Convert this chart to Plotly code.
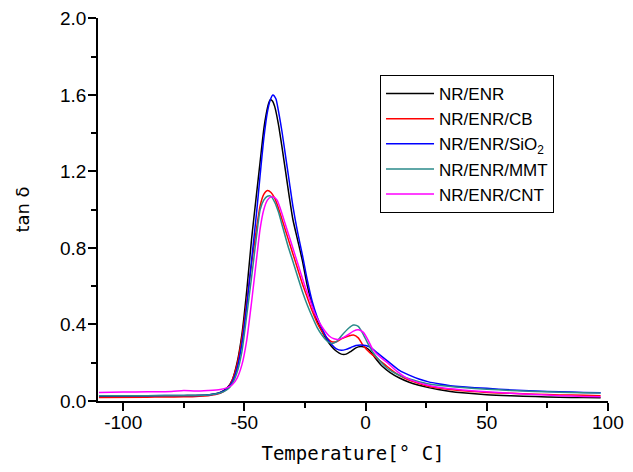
import plotly.graph_objects as go

# ---- data ----
t_enr = [-110, -90, -75, -65, -60, -57, -55, -53, -51, -49, -47, -45, -43.5, -42, -41, -40, -39.3, -38.5,
         -37.5, -36, -34.5, -33, -31.5, -30, -28, -26, -24, -22, -20, -18, -16, -14, -12, -10, -8, -6,
         -4, -2, 0, 2, 4, 7, 10, 14, 18, 22, 26, 30, 35, 40, 50, 60, 70, 80, 90, 97]
tan_enr = [0.025, 0.026, 0.028, 0.032, 0.045, 0.07, 0.11, 0.2, 0.35, 0.58, 0.85, 1.08, 1.25, 1.42, 1.50,
           1.555, 1.575, 1.57, 1.54, 1.45, 1.33, 1.20, 1.07, 0.95, 0.84, 0.73, 0.60, 0.50, 0.42, 0.365,
           0.32, 0.285, 0.26, 0.245, 0.245, 0.26, 0.278, 0.285, 0.28, 0.26, 0.225, 0.18, 0.15, 0.12,
           0.098, 0.082, 0.07, 0.06, 0.05, 0.043, 0.033, 0.027, 0.023, 0.02, 0.018, 0.017]

t_cb = [-110, -90, -75, -65, -60, -57, -55, -53, -51, -49, -47, -45, -43.5, -42, -40.5, -39, -37.5, -36,
        -34, -32, -30, -28, -26, -24, -22, -20, -18, -16, -14, -12, -10, -7, -5, -3, -1, 2, 5, 8, 12,
        16, 20, 25, 30, 40, 50, 60, 70, 80, 90, 97]
tan_cb = [0.018, 0.02, 0.022, 0.028, 0.04, 0.065, 0.11, 0.19, 0.33, 0.52, 0.72, 0.9, 1.02, 1.08, 1.1,
          1.09, 1.06, 1.01, 0.93, 0.85, 0.77, 0.69, 0.61, 0.54, 0.47, 0.41, 0.365, 0.33, 0.31, 0.31,
          0.325, 0.34, 0.345, 0.33, 0.29, 0.25, 0.22, 0.19, 0.15, 0.12, 0.1, 0.08, 0.068, 0.053, 0.045,
          0.04, 0.035, 0.032, 0.03, 0.028]

t_sio2 = [-110, -90, -75, -65, -60, -57, -55, -53, -51, -49, -47, -45, -43.5, -42, -40.5, -39.3, -38.2,
          -37, -36, -34.5, -33, -31.5, -30, -28, -26, -24, -22, -20, -18, -16, -14, -12, -10, -8, -6,
          -4, -2, 0, 2, 5, 9, 14, 18, 22, 26, 30, 35, 40, 50, 60, 70, 80, 90, 97]
tan_sio2 = [0.027, 0.028, 0.029, 0.032, 0.043, 0.065, 0.1, 0.17, 0.3, 0.5, 0.74, 0.98, 1.18, 1.37, 1.51,
            1.575, 1.6, 1.58, 1.52, 1.41, 1.28, 1.15, 1.02, 0.88, 0.76, 0.63, 0.52, 0.44, 0.38, 0.33,
            0.295, 0.272, 0.265, 0.27, 0.28, 0.29, 0.293, 0.29, 0.28, 0.25, 0.21, 0.16, 0.135, 0.115,
            0.1, 0.09, 0.08, 0.074, 0.066, 0.058, 0.052, 0.048, 0.045, 0.043]

t_mmt = [-110, -90, -75, -65, -60, -57, -55, -53, -51, -49, -47, -45, -43.5, -42, -40.5, -39, -37.5, -36,
         -34, -32, -30, -28, -26, -24, -22, -20, -18, -16, -14, -12, -10, -7, -5, -3, -1, 1, 3, 5.5, 9,
         13, 17, 21, 25, 30, 40, 50, 60, 70, 80, 90, 97]
tan_mmt = [0.027, 0.028, 0.029, 0.032, 0.042, 0.06, 0.09, 0.15, 0.26, 0.45, 0.65, 0.86, 1.0, 1.05, 1.07,
           1.07, 1.04, 0.99, 0.9, 0.81, 0.73, 0.65, 0.57, 0.5, 0.44, 0.385, 0.345, 0.315, 0.3, 0.31,
           0.34, 0.38, 0.397, 0.39, 0.35, 0.30, 0.255, 0.215, 0.17, 0.14, 0.12, 0.105, 0.092, 0.082,
           0.07, 0.062, 0.055, 0.05, 0.046, 0.043, 0.042]

t_cnt = [-110, -100, -90, -80, -75, -70, -65, -60, -57, -55, -53, -51, -49, -47, -45, -43.5, -42, -40.5,
         -39, -38, -36.5, -35, -33, -31, -29, -27, -25, -23, -21, -19, -17, -15, -13, -11, -8, -5, -3,
         -1, 1, 3, 6, 9, 13, 17, 21, 25, 30, 40, 50, 60, 70, 80, 90, 97]
tan_cnt = [0.045, 0.047, 0.048, 0.05, 0.055, 0.052, 0.055, 0.06, 0.07, 0.085, 0.12, 0.19, 0.32, 0.52,
           0.74, 0.9, 1.0, 1.05, 1.067, 1.067, 1.05, 1.0, 0.92, 0.84, 0.76, 0.68, 0.6, 0.53, 0.46, 0.41,
           0.37, 0.34, 0.325, 0.322, 0.34, 0.365, 0.372, 0.36, 0.32, 0.27, 0.23, 0.2, 0.155, 0.12, 0.1,
           0.085, 0.072, 0.058, 0.048, 0.04, 0.034, 0.028, 0.024, 0.022]

series_names = ["NR/ENR", "NR/ENR/CB", "NR/ENR/SiO<sub>2</sub>", "NR/ENR/MMT", "NR/ENR/CNT"]
series_x = [t_enr, t_cb, t_sio2, t_mmt, t_cnt]
series_y = [tan_enr, tan_cb, tan_sio2, tan_mmt, tan_cnt]
series_colors = ["#000000", "#ff0000", "#0000ff", "#2a8a8a", "#ff00ff"]

x_ticks = [-100, -50, 0, 50, 100]
y_ticks = [0.0, 0.4, 0.8, 1.2, 1.6, 2.0]

fig = go.Figure()
for name, xs, ys, col in zip(series_names, series_x, series_y, series_colors):
    fig.add_trace(go.Scatter(x=xs, y=ys, mode="lines", name=name,
                             line=dict(color=col, width=1.5, shape="spline", smoothing=0.6)))

axis_common = dict(showgrid=False, zeroline=False, showline=True, linecolor="black", linewidth=1.5,
                   ticks="outside", ticklen=8, tickwidth=1.5, tickcolor="black",
                   ticklabeloverflow="allow",
                   tickfont=dict(family="Liberation Sans, Arial", size=19, color="black"))

fig.update_xaxes(range=[-110.4, 100.05], tickvals=x_ticks, ticktext=[str(v) for v in x_ticks],
                 minor=dict(ticks="outside", ticklen=5, tickwidth=1.5, tickcolor="black", dtick=25, tick0=0),
                 title=dict(text="Temperature[° C]", font=dict(family="DejaVu Sans Mono", size=19, color="black"),
                            standoff=16),
                 ticklabelstandoff=-5,
                 automargin=False, **axis_common)
fig.update_yaxes(range=[0, 2.002], tickvals=y_ticks, ticktext=[f"{v:.1f}" for v in y_ticks],
                 minor=dict(ticks="outside", ticklen=5, tickwidth=1.5, tickcolor="black", dtick=0.2, tick0=0),
                 title=dict(text="tan δ\u00a0\u00a0\u00a0\u00a0", font=dict(family="DejaVu Sans", size=18, color="black"),
                            standoff=26),
                 ticklabelstandoff=-2,
                 automargin=False, **axis_common)

# the page adds an 8px body margin, so the figure is sized/offset to fit inside the visible area
fig.update_layout(
    width=617, height=456,
    margin=dict(l=90, r=17, t=10, b=63),
    paper_bgcolor="white", plot_bgcolor="white",
    legend=dict(x=0.553, y=0.851, xanchor="left", yanchor="top",
                bordercolor="black", borderwidth=1, bgcolor="white",
                font=dict(family="Liberation Sans, Arial", size=17, color="black"),
                tracegroupgap=0, itemwidth=48),
    showlegend=True,
)

fig.write_html("out.html")
